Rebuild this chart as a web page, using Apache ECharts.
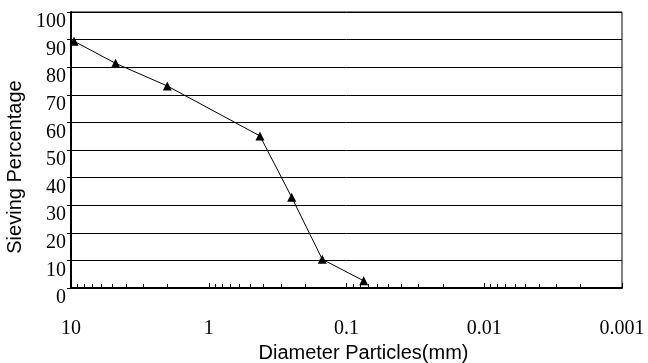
<!DOCTYPE html>
<html>
<head>
<meta charset="utf-8">
<script src="https://cdn.jsdelivr.net/npm/echarts@6/dist/echarts.min.js"></script>
<style>
  html, body { margin: 0; padding: 0; background: #fff; }
  #chart { width: 648px; height: 363px; }
</style>
</head>
<body>
<div id="chart"></div>
<script>
// sieve sizes (mm) and percentage passing
var sieveSizes = [9.5, 4.75, 2.0, 0.425, 0.25, 0.15, 0.075];
var passing = [89.4, 81.4, 73.2, 55.1, 32.9, 10.4, 2.6];
var xTickLabels = ['10', '1', '0.1', '0.01', '0.001'];
var yTicks = [0, 10, 20, 30, 40, 50, 60, 70, 80, 90, 100];

var points = sieveSizes.map(function (d, i) { return [d, passing[i]]; });

var chart = echarts.init(document.getElementById('chart'));

var option = {
    animation: false,
    grid: {
        left: 71, top: 12, right: 26, bottom: 75,
        outerBoundsMode: 'none',
        show: true,
        borderColor: '#000',
        borderWidth: 1
    },
    xAxis: {
        type: 'log',
        logBase: 10,
        min: 0.001,
        max: 10,
        inverse: true,
        name: 'Diameter Particles(mm)',
        nameLocation: 'middle',
        nameGap: 54,
        // title sits a bit right of the plot centre in the original
        nameTextStyle: { fontFamily: 'Liberation Sans', fontSize: 20, color: '#000', padding: [0, 0, 0, 34] },
        axisLine: { show: true, lineStyle: { color: '#000', width: 2 } },
        axisTick: { show: true, inside: true, length: 5, lineStyle: { color: '#000' } },
        minorTick: { show: true, splitNumber: 9, length: 4, lineStyle: { color: '#000' } },
        splitLine: { show: false },
        axisLabel: {
            margin: 31,
            fontFamily: 'Liberation Serif',
            fontSize: 20,
            color: '#000',
            formatter: function (v) {
                // 10 -> index 0, 1 -> 1, 0.1 -> 2 ...
                var idx = Math.round(1 - Math.log10(v));
                return xTickLabels[idx] !== undefined ? xTickLabels[idx] : '';
            }
        }
    },
    yAxis: {
        type: 'value',
        min: yTicks[0],
        max: yTicks[yTicks.length - 1],
        interval: 10,
        name: 'Sieving Percentage',
        nameLocation: 'middle',
        nameGap: 36,
        // and a bit lower than centre
        nameTextStyle: { fontFamily: 'Liberation Sans', fontSize: 20, color: '#000', padding: [0, 34, 0, 0] },
        axisLine: { show: true, lineStyle: { color: '#000', width: 2 } },
        axisTick: { show: true, length: 4, lineStyle: { color: '#000' } },
        splitLine: { show: true, lineStyle: { color: '#000', width: 1 } },
        axisLabel: {
            margin: 5,
            fontFamily: 'Liberation Serif',
            fontSize: 20,
            color: '#000',
            verticalAlign: 'top'
        }
    },
    series: [
        {
            type: 'line',
            data: points,
            symbol: 'triangle',
            symbolSize: 9,
            itemStyle: { color: '#000' },
            lineStyle: { color: '#000', width: 1 }
        }
    ]
};

chart.setOption(option);
</script>
</body>
</html>
